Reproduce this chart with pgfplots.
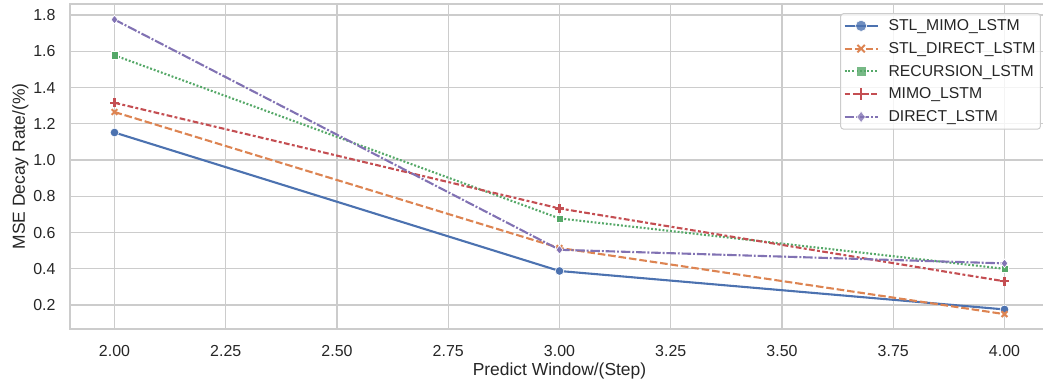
\documentclass[border=0pt]{standalone}
\usepackage{fontspec}
\setmainfont{Liberation Sans}
\usepackage{pgfplots}
\pgfplotsset{compat=1.18}
\definecolor{sblue}{HTML}{4C72B0}
\definecolor{sorange}{HTML}{DD8452}
\definecolor{sgreen}{HTML}{55A868}
\definecolor{sred}{HTML}{C44E52}
\definecolor{spurple}{HTML}{8172B3}
\definecolor{gridc}{HTML}{CCCCCC}
\definecolor{txt}{HTML}{262626}
\begin{document}
\begin{tikzpicture}
\begin{axis}[
  scale only axis,
  width=979bp, height=325bp,
  xmin=1.9, xmax=4.1, ymin=0.068, ymax=1.861,
  xtick={2,2.25,...,4.01},
  ytick={0.2,0.4,...,1.81},
  xticklabel style={yshift=-13bp},
  yticklabel style={xshift=-11bp},
  x tick label style={/pgf/number format/.cd,fixed,fixed zerofill,precision=2},
  y tick label style={/pgf/number format/.cd,fixed,fixed zerofill,precision=1},
  /pgf/number format/assume math mode=true,
  tick style={draw=none},
  grid=major,
  major grid style={draw=gridc, line width=1.3bp},
  axis line style={draw=gridc, line width=1.8bp},
  tick label style={font=\fontsize{16}{18}\selectfont, text=txt},
  label style={font=\fontsize{17.5}{19}\selectfont, text=txt},
  xlabel={Predict Window/(Step)},
  ylabel={MSE Decay Rate/(\%)},
  xlabel style={yshift=1bp},
  ylabel style={yshift=-2bp},
  every axis plot/.append style={line width=2.1bp},
  legend style={at={(0.9918,0.972)}, anchor=north east, draw=gridc, line width=1bp, rounded corners=3bp,
    fill=white, fill opacity=0.8, text opacity=1, font=\fontsize{15.8}{17}\selectfont, text=txt,
    row sep=6.3bp, inner xsep=3bp, inner ysep=4bp},
  legend cell align=left,
  legend image code/.code={\path (1.44cm,0cm); \draw[mark repeat=2,mark phase=2,every mark/.append style={scale=1.3}] plot coordinates {(0cm,0cm) (0.58cm,0cm) (1.16cm,0cm)};},
]
\addplot[sblue, solid, mark=*, mark size=4.3bp, mark options={solid, fill=sblue, draw=white, line width=0.6bp}]
  coordinates {(2,1.152) (3,0.388) (4,0.176)};
\addlegendentry{STL\_MIMO\_LSTM}
\addplot[sorange, dash pattern=on 7.6bp off 2.9bp, mark=x, mark size=4bp, mark options={solid, line width=2bp}]
  coordinates {(2,1.265) (3,0.515) (4,0.150)};
\addlegendentry{STL\_DIRECT\_LSTM}
\addplot[sgreen, dash pattern=on 1.9bp off 1.9bp, mark=square*, mark size=3.6bp, mark options={solid, fill=sgreen, draw=white, line width=0.6bp}]
  coordinates {(2,1.578) (3,0.678) (4,0.400)};
\addlegendentry{RECURSION\_LSTM}
\addplot[sred, dash pattern=on 5.7bp off 2.4bp on 2.9bp off 2.4bp, mark=+, mark size=4.4bp, mark options={solid, line width=2.2bp}]
  coordinates {(2,1.316) (3,0.733) (4,0.331)};
\addlegendentry{MIMO\_LSTM}
\addplot[spurple, dash pattern=on 9.5bp off 1.9bp on 1.9bp off 1.9bp, mark=diamond*, mark size=4.4bp, mark options={solid, fill=spurple, draw=white, line width=0.6bp}]
  coordinates {(2,1.775) (3,0.505) (4,0.430)};
\addlegendentry{DIRECT\_LSTM}
\end{axis}
\pgfresetboundingbox
\path[use as bounding box] ([xshift=-70bp,yshift=-56bp]current axis.south west) rectangle ([xshift=973bp,yshift=329bp]current axis.south west);
\end{tikzpicture}
\end{document}
